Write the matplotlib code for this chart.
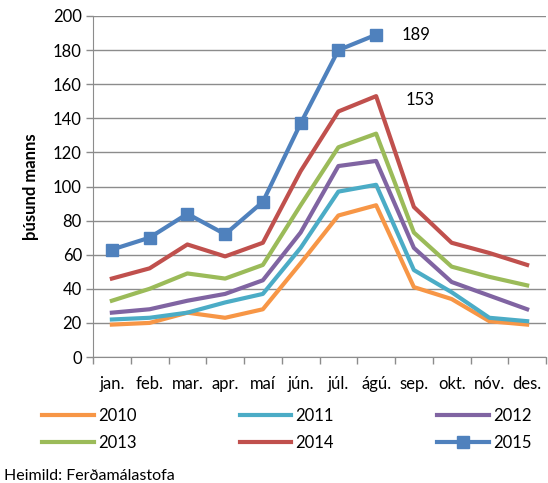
import matplotlib
matplotlib.use("Agg")
import matplotlib.pyplot as plt
from matplotlib.ticker import FixedLocator
import numpy as np

plt.rcParams['font.family'] = ['Lato', 'DejaVu Sans']

months = ["jan.", "feb.", "mar.", "apr.", "maí", "jún.", "júl.", "ágú.", "sep.", "okt.", "nóv.", "des."]
y2010 = [19, 20, 26, 23, 28, 55, 83, 89, 41, 34, 21, 19]
y2011 = [22, 23, 26, 32, 37, 64, 97, 101, 51, 38, 23, 21]
y2012 = [26, 28, 33, 37, 45, 73, 112, 115, 64, 44, 36, 28]
y2013 = [33, 40, 49, 46, 54, 89, 123, 131, 73, 53, 47, 42]
y2014 = [46, 52, 66, 59, 67, 109, 144, 153, 88, 67, 61, 54]
y2015 = [63, 70, 84, 72, 91, 137, 180, 189]
years = ["2010", "2011", "2012", "2013", "2014", "2015"]
colors = ["#F79646", "#4BACC6", "#8064A2", "#9BBB59", "#C0504D", "#4F81BD"]

fig = plt.figure(figsize=(5.48, 4.83), dpi=100)
ax = fig.add_axes([93/548, 1-357/483, (546-93)/548, (357-16)/483])

series = [y2010, y2011, y2012, y2013, y2014, y2015]
handles = []
for name, vals, c in zip(years, series, colors):
    x = np.arange(len(vals))
    if name == "2015":
        h, = ax.plot(x, vals, color=c, lw=3, marker='s', ms=9, label=name, zorder=5)
    else:
        h, = ax.plot(x, vals, color=c, lw=3, label=name, zorder=4)
    handles.append(h)

ax.annotate("189", (7, y2015[7]), xytext=(18, 0), textcoords='offset points',
            fontsize=12, va='center', ha='left')
ax.annotate("153", (7, y2014[7]), xytext=(21, -3), textcoords='offset points',
            fontsize=12, va='center', ha='left')

ax.set_xlim(-0.5, 11.5)
ax.set_ylim(0, 200)
ax.set_yticks(range(0, 201, 20))
ax.grid(axis='y', color='#8C8C8C', lw=1)
ax.set_axisbelow(True)
ax.set_xticks(range(12))
ax.set_xticklabels(months, fontsize=12)
ax.xaxis.set_minor_locator(FixedLocator(np.arange(-0.5, 12, 1)))
ax.tick_params(axis='x', which='major', length=0, pad=14)
ax.tick_params(axis='x', which='minor', length=5, color='#8C8C8C', width=1)
ax.tick_params(axis='y', length=5, color='#8C8C8C', width=1, labelsize=12, pad=3)
for s in ['top', 'right']:
    ax.spines[s].set_visible(False)
for s in ['left', 'bottom']:
    ax.spines[s].set_color('#8C8C8C')
ax.set_ylabel("þúsund manns", fontsize=12, fontweight='bold')
ax.yaxis.set_label_coords((39-93)/453, 0.5)

order = [0, 3, 1, 4, 2, 5]
leg = fig.legend([handles[i] for i in order], [years[i] for i in order], ncol=3,
                 loc='upper left', bbox_to_anchor=(42/548, 1-408/483), frameon=False,
                 fontsize=12, handlelength=3.1, columnspacing=6.2, handletextpad=0.25,
                 labelspacing=0.65, borderaxespad=0, borderpad=0)
fig.text(4/548, 1-476/483, "Heimild: Ferðamálastofa", fontsize=11.5, va='center')

fig.savefig("out.png", dpi=100)
